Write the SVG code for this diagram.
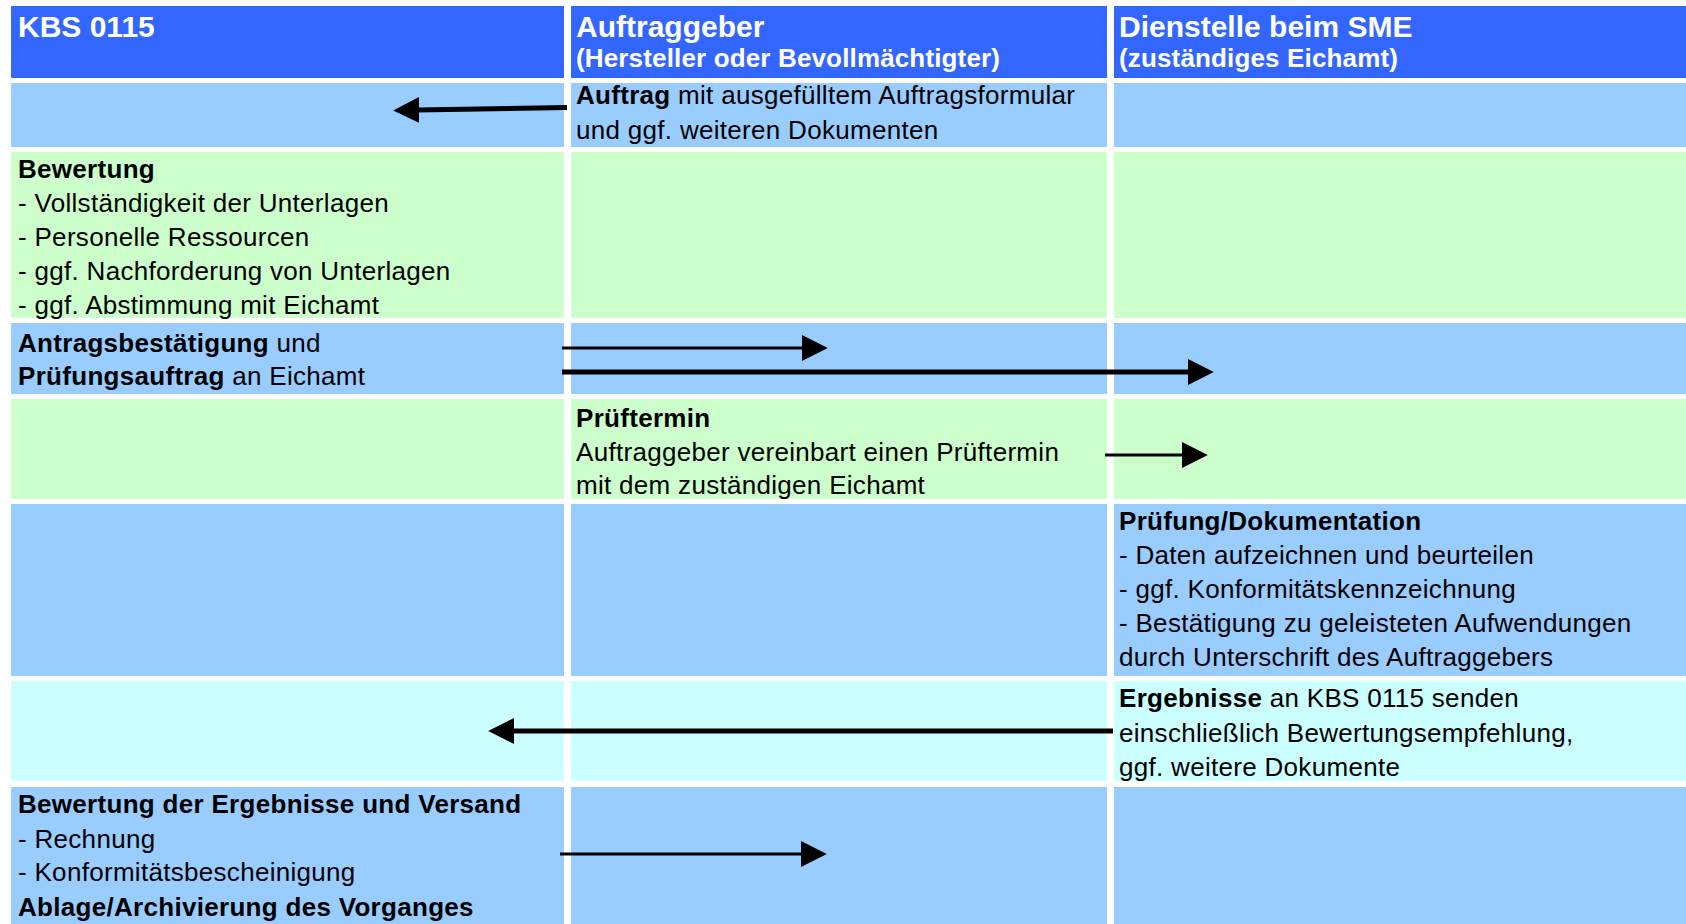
<svg xmlns="http://www.w3.org/2000/svg" width="1686" height="924" viewBox="0 0 1686 924">
<style>
text{font-family:"Liberation Sans",Arial,sans-serif;font-size:26px;fill:#000;letter-spacing:0.3px}
.hd{fill:#3366FF}.bl{fill:#99CCFF}.gr{fill:#CCFFCC}.cy{fill:#CCFFFF}
.h1{font-size:30px;font-weight:bold;fill:#fff;letter-spacing:0}
.h2{font-size:26px;font-weight:bold;fill:#fff;letter-spacing:0.15px}
.b{font-weight:bold}
.con{stroke:#000;fill:none}
</style>
<defs>
<marker id="ah" markerUnits="userSpaceOnUse" markerWidth="26" markerHeight="26" viewBox="0 0 24 24" refX="2" refY="12" orient="auto">
<path d="M0,0 L24,12 L0,24 Z" fill="#000"/>
</marker>
</defs>
<rect width="1686" height="924" fill="#fff"/>

<g id="header">
<g id="h-kbs"><rect class="hd" x="11" y="6" width="553" height="72"/><text class="h1" x="18" y="37">KBS 0115</text></g>
<g id="h-auftraggeber"><rect class="hd" x="571" y="6" width="536" height="72"/><text class="h1" x="576" y="37">Auftraggeber</text><text class="h2" x="576" y="67">(Hersteller oder Bevollmächtigter)</text></g>
<g id="h-dienststelle"><rect class="hd" x="1114" y="6" width="572" height="72"/><text class="h1" x="1119" y="37">Dienstelle beim SME</text><text class="h2" x="1119" y="67">(zuständiges Eichamt)</text></g>
</g>

<g id="row1">
<g id="r1-kbs"><rect class="bl" x="11" y="83" width="553" height="64"/></g>
<g id="r1-auftrag"><rect class="bl" x="571" y="83" width="536" height="64"/>
<text x="576" y="104"><tspan class="b">Auftrag</tspan> mit ausgefülltem Auftragsformular</text>
<text x="576" y="139">und ggf. weiteren Dokumenten</text></g>
<g id="r1-sme"><rect class="bl" x="1114" y="83" width="572" height="64"/></g>
</g>

<g id="row2">
<g id="r2-bewertung"><rect class="gr" x="11" y="152" width="553" height="166"/>
<text x="18" y="178" class="b">Bewertung</text>
<text x="18" y="212">- Vollständigkeit der Unterlagen</text>
<text x="18" y="246">- Personelle Ressourcen</text>
<text x="18" y="280">- ggf. Nachforderung von Unterlagen</text>
<text x="18" y="314">- ggf. Abstimmung mit Eichamt</text></g>
<g id="r2-auftraggeber"><rect class="gr" x="571" y="152" width="536" height="166"/></g>
<g id="r2-sme"><rect class="gr" x="1114" y="152" width="572" height="166"/></g>
</g>

<g id="row3">
<g id="r3-antrag"><rect class="bl" x="11" y="323" width="553" height="71"/>
<text x="18" y="352"><tspan class="b">Antragsbestätigung</tspan> und</text>
<text x="18" y="385"><tspan class="b">Prüfungsauftrag</tspan> an Eichamt</text></g>
<g id="r3-auftraggeber"><rect class="bl" x="571" y="323" width="536" height="71"/></g>
<g id="r3-sme"><rect class="bl" x="1114" y="323" width="572" height="71"/></g>
</g>

<g id="row4">
<g id="r4-kbs"><rect class="gr" x="11" y="399" width="553" height="100"/></g>
<g id="r4-prueftermin"><rect class="gr" x="571" y="399" width="536" height="100"/>
<text x="576" y="427" class="b">Prüftermin</text>
<text x="576" y="461">Auftraggeber vereinbart einen Prüftermin</text>
<text x="576" y="494">mit dem zuständigen Eichamt</text></g>
<g id="r4-sme"><rect class="gr" x="1114" y="399" width="572" height="100"/></g>
</g>

<g id="row5">
<g id="r5-kbs"><rect class="bl" x="11" y="504" width="553" height="172"/></g>
<g id="r5-auftraggeber"><rect class="bl" x="571" y="504" width="536" height="172"/></g>
<g id="r5-pruefung"><rect class="bl" x="1114" y="504" width="572" height="172"/>
<text x="1119" y="530" class="b">Prüfung/Dokumentation</text>
<text x="1119" y="564">- Daten aufzeichnen und beurteilen</text>
<text x="1119" y="598">- ggf. Konformitätskennzeichnung</text>
<text x="1119" y="632">- Bestätigung zu geleisteten Aufwendungen</text>
<text x="1119" y="666">durch Unterschrift des Auftraggebers</text></g>
</g>

<g id="row6">
<g id="r6-kbs"><rect class="cy" x="11" y="681" width="553" height="100"/></g>
<g id="r6-auftraggeber"><rect class="cy" x="571" y="681" width="536" height="100"/></g>
<g id="r6-ergebnisse"><rect class="cy" x="1114" y="681" width="572" height="100"/>
<text x="1119" y="707"><tspan class="b">Ergebnisse</tspan> an KBS 0115 senden</text>
<text x="1119" y="742">einschließlich Bewertungsempfehlung,</text>
<text x="1119" y="776">ggf. weitere Dokumente</text></g>
</g>

<g id="row7">
<g id="r7-versand"><rect class="bl" x="11" y="787" width="553" height="137"/>
<text x="18" y="813" class="b">Bewertung der Ergebnisse und Versand</text>
<text x="18" y="848">- Rechnung</text>
<text x="18" y="881">- Konformitätsbescheinigung</text>
<text x="18" y="916" class="b">Ablage/Archivierung des Vorganges</text></g>
<g id="r7-auftraggeber"><rect class="bl" x="571" y="787" width="536" height="137"/></g>
<g id="r7-sme"><rect class="bl" x="1114" y="787" width="572" height="137"/></g>
</g>

<g id="connectors">
<line class="con" x1="567" y1="107.5" x2="417" y2="110" stroke-width="5" marker-end="url(#ah)"/>
<line class="con" x1="562" y1="348" x2="804" y2="348" stroke-width="3" marker-end="url(#ah)"/>
<line class="con" x1="562" y1="372" x2="1190" y2="372" stroke-width="5" marker-end="url(#ah)"/>
<line class="con" x1="1105" y1="455" x2="1184" y2="455" stroke-width="3" marker-end="url(#ah)"/>
<line class="con" x1="1113" y1="731" x2="512" y2="731" stroke-width="5" marker-end="url(#ah)"/>
<line class="con" x1="560" y1="854" x2="803" y2="854" stroke-width="3" marker-end="url(#ah)"/>
</g>
</svg>
